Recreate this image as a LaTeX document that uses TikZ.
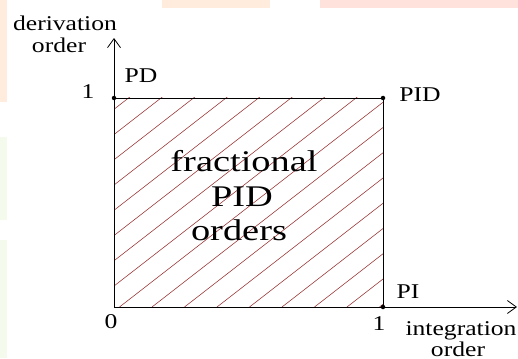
\documentclass[tikz,border=0pt]{standalone}
\usepackage{fontspec}
\setmainfont{Liberation Serif}
\usetikzlibrary{arrows.meta}
\definecolor{hatch}{RGB}{150,45,45}
\definecolor{wmorange}{RGB}{255,236,220}
\definecolor{wmpink}{RGB}{255,226,220}
\definecolor{wmgreen}{RGB}{244,250,236}
\tikzset{
  axis/.style={line width=0.9pt, -{Straight Barb[length=9pt,width=13pt,line width=0.8pt]}},
  frame/.style={line width=0.9pt},
  hatchline/.style={draw=hatch, line width=0.55pt},
  corner/.style={circle, fill=black, inner sep=0pt, minimum size=4.5pt},
  lbl/.style={font=\fontsize{21}{21}\selectfont, inner sep=0pt, anchor=base, xscale=1.22, transform shape},
  big/.style={font=\fontsize{30}{30}\selectfont, inner sep=0pt, anchor=base, xscale=1.28, transform shape}
}
\begin{document}
\begin{tikzpicture}[x=1pt,y=-1pt]
\useasboundingbox (0,0) rectangle (518,358);
% faint watermark patches
\fill[wmorange] (162,0) rectangle (270,8);
\fill[wmpink] (320,0) rectangle (518,8);
\fill[wmorange] (0,0) rectangle (7,102);
\fill[wmgreen] (0,137) rectangle (7,220);
\fill[wmgreen] (0,240) rectangle (7,358);
% coordinates
\coordinate (O) at (114,307);
\coordinate (Y1) at (114,98);
\coordinate (XY) at (383,98);
\coordinate (X1) at (383,307);
\coordinate (Ytop) at (114,38);
\coordinate (Xend) at (517,307);
% hatching
\begin{scope}
\clip (Y1) rectangle (X1);
\foreach \d in {-420,-387.5,...,300} {
  \draw[hatchline] (114+\d+3,307) -- ++(269*1.6,-209*1.6);
}
\end{scope}
% frame
\draw[frame] (Y1) -- (XY) -- (X1);
\draw[axis] (O) -- (Ytop);
\draw[axis] (O) -- (Xend);
% corners
\node[corner] (c1) at (Y1) {};
\node[corner] (c2) at (XY) {};
\node[corner] (c3) at (X1) {};
% labels
\node[lbl] (der) at (65,31) {derivation};
\node[lbl] (dord) at (59,53) {order};
\node[lbl] (pd) at (141,83) {PD};
\node[lbl] (one1) at (88,99) {1};
\node[lbl] (pid) at (420,101.5) {PID};
\node[lbl] (zero) at (111,328) {0};
\node[lbl] (one2) at (379,330) {1};
\node[lbl] (pi) at (408,298) {PI};
\node[lbl] (integ) at (461,335) {integration};
\node[lbl] (iord) at (458,356) {order};
\node[big] (frac) at (244,171) {fractional};
\node[big] (fpid) at (242,206.5) {PID};
\node[big] (ford) at (239,240) {orders};
\end{tikzpicture}
\end{document}
